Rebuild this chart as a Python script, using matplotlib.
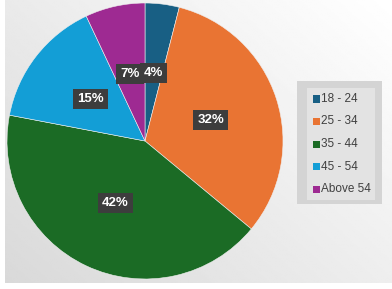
import numpy as np
import matplotlib
matplotlib.use('Agg')
import matplotlib.pyplot as plt
from matplotlib.patches import Rectangle

# age groups and their share (%)
labels = ["18 - 24", "25 - 34", "35 - 44", "45 - 54", "Above 54"]
shares = [4, 32, 42, 15, 7]
colors = ["#185f84", "#e97433", "#1b6b25", "#139ed6", "#9e2a92"]

W, H = 392, 289
fig = plt.figure(figsize=(W / 100, H / 100), dpi=100)
fig.patch.set_facecolor("white")

# gradient background panel
bg = fig.add_axes([5 / W, 6 / H, 387 / W, 283 / H])
yy, xx = np.mgrid[0:1:200j, 0:1:200j]
grad = 0.85 + 0.15 * (0.55 * xx + 0.45 * (1 - yy))
bg.imshow(grad, cmap="gray", vmin=0, vmax=1, aspect="auto", extent=[0, 1, 0, 1])
bg.axis("off")

# pie
cx, cy, r = 145, 289 - 141, 138
ax = fig.add_axes([(cx - r) / W, (cy - r) / H, 2 * r / W, 2 * r / H])
wedges, _, autotexts = ax.pie(
    shares, colors=colors, startangle=90, counterclock=False,
    autopct="%d%%", pctdistance=0.5,
    wedgeprops=dict(edgecolor="#f0f0f0", linewidth=0.4),
    textprops=dict(color="white", fontsize=9.5, fontweight="bold",
                   family="Liberation Sans"))
for t in autotexts:
    t.set_bbox(dict(boxstyle="square,pad=0.3", facecolor="#3d3d3d",
                    edgecolor="none"))
ax.set_xlim(-1, 1)
ax.set_ylim(-1, 1)
ax.set_aspect("equal")

# legend box
fig.patches.append(Rectangle((297 / W, 1 - 204 / H), 85 / W, 123 / H,
                             transform=fig.transFigure, facecolor="#d4d4d4",
                             edgecolor="none", zorder=5))
fig.patches.append(Rectangle((307 / W, 1 - 200 / H), 68 / W, 112 / H,
                             transform=fig.transFigure, facecolor="#e3e3e3",
                             edgecolor="none", zorder=6))
for i, (lab, col) in enumerate(zip(labels, colors)):
    y = 99 + i * 22.5
    fig.patches.append(Rectangle((313 / W, 1 - (y + 3.5) / H), 7 / W, 7 / H,
                                 transform=fig.transFigure, facecolor=col,
                                 edgecolor="none", zorder=7))
    fig.text(321 / W, 1 - y / H, lab, fontsize=8.5, color="#404040",
             family="Liberation Sans", va="center", ha="left", zorder=8)

fig.savefig("out.png", dpi=100)
